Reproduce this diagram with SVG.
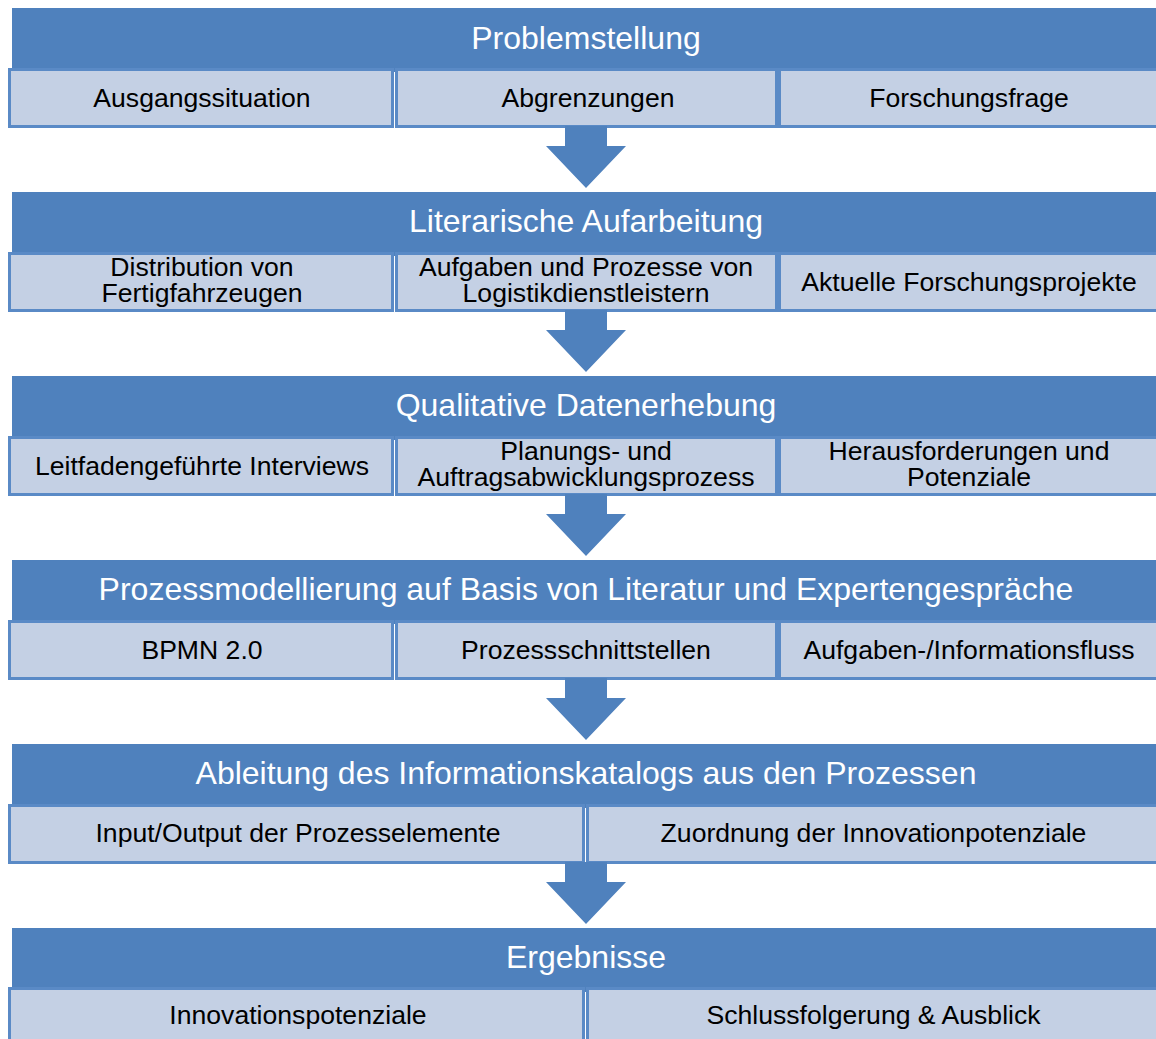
<svg xmlns="http://www.w3.org/2000/svg" width="1156" height="1039" viewBox="0 0 1156 1039">
  <style>
    .band { fill: #4F81BD; }
    .cell { fill: #C4D0E4; stroke: #5A8AC6; stroke-width: 3; }
    .title { font-family: "Liberation Sans", Arial, sans-serif; font-size: 32px; fill: #FFFFFF; text-anchor: middle; }
    .label { font-family: "Liberation Sans", Arial, sans-serif; font-size: 26.6px; fill: #000000; text-anchor: middle; }
    .arrow { fill: #4F81BD; }
  </style>
  <defs>
    <!-- block arrow between two stages; origin at the top of the next stage band -->
    <path id="down-arrow" d="M565,-66 H607 V-46 H626 L586,-4 L546,-46 H565 Z"/>
  </defs>
  <rect width="1156" height="1039" fill="#FFFFFF"/>

  <!-- Stage 1 -->
  <g id="stage-problemstellung" transform="translate(0,8)">
    <rect class="band" x="12" y="0" width="1150" height="64"/>
    <text class="title" x="586" y="41">Problemstellung</text>
    <rect class="cell" x="9.5" y="61.5" width="383" height="57"/>
    <rect class="cell" x="396.5" y="61.5" width="380" height="57"/>
    <rect class="cell" x="779.5" y="61.5" width="390" height="57"/>
    <text class="label" x="202" y="99">Ausgangssituation</text>
    <text class="label" x="588" y="99">Abgrenzungen</text>
    <text class="label" x="969" y="99">Forschungsfrage</text>
  </g>

  <!-- Stage 2 -->
  <g id="stage-literatur" transform="translate(0,192)">
    <rect class="band" x="12" y="0" width="1150" height="64"/>
    <text class="title" x="586" y="40">Literarische Aufarbeitung</text>
    <rect class="cell" x="9.5" y="61.5" width="383" height="57"/>
    <rect class="cell" x="396.5" y="61.5" width="380" height="57"/>
    <rect class="cell" x="779.5" y="61.5" width="390" height="57"/>
    <text class="label" x="202"><tspan x="202" y="84">Distribution von</tspan><tspan x="202" y="110">Fertigfahrzeugen</tspan></text>
    <text class="label" x="586"><tspan x="586" y="84">Aufgaben und Prozesse von</tspan><tspan x="586" y="110">Logistikdienstleistern</tspan></text>
    <text class="label" x="969" y="99">Aktuelle Forschungsprojekte</text>
  </g>

  <!-- Stage 3 -->
  <g id="stage-datenerhebung" transform="translate(0,376)">
    <rect class="band" x="12" y="0" width="1150" height="64"/>
    <text class="title" x="586" y="40">Qualitative Datenerhebung</text>
    <rect class="cell" x="9.5" y="61.5" width="383" height="57"/>
    <rect class="cell" x="396.5" y="61.5" width="380" height="57"/>
    <rect class="cell" x="779.5" y="61.5" width="390" height="57"/>
    <text class="label" x="202" y="99">Leitfadengeführte Interviews</text>
    <text class="label" x="586"><tspan x="586" y="84">Planungs- und</tspan><tspan x="586" y="110">Auftragsabwicklungsprozess</tspan></text>
    <text class="label" x="969"><tspan x="969" y="84">Herausforderungen und</tspan><tspan x="969" y="110">Potenziale</tspan></text>
  </g>

  <!-- Stage 4 -->
  <g id="stage-prozessmodellierung" transform="translate(0,560)">
    <rect class="band" x="12" y="0" width="1150" height="64"/>
    <text class="title" x="586" y="40">Prozessmodellierung auf Basis von Literatur und Expertengespräche</text>
    <rect class="cell" x="9.5" y="61.5" width="383" height="57"/>
    <rect class="cell" x="396.5" y="61.5" width="380" height="57"/>
    <rect class="cell" x="779.5" y="61.5" width="390" height="57"/>
    <text class="label" x="202" y="99">BPMN 2.0</text>
    <text class="label" x="586" y="99">Prozessschnittstellen</text>
    <text class="label" x="969" y="99">Aufgaben-/Informationsfluss</text>
  </g>

  <!-- Stage 5 -->
  <g id="stage-informationskatalog" transform="translate(0,744)">
    <rect class="band" x="12" y="0" width="1150" height="64"/>
    <text class="title" x="586" y="40">Ableitung des Informationskatalogs aus den Prozessen</text>
    <rect class="cell" x="9.5" y="61.5" width="574" height="57"/>
    <rect class="cell" x="587.5" y="61.5" width="582" height="57"/>
    <text class="label" x="298" y="98">Input/Output der Prozesselemente</text>
    <text class="label" x="873.5" y="98">Zuordnung der Innovationpotenziale</text>
  </g>

  <!-- Stage 6 -->
  <g id="stage-ergebnisse" transform="translate(0,928)">
    <rect class="band" x="12" y="0" width="1150" height="64"/>
    <text class="title" x="586" y="40">Ergebnisse</text>
    <rect class="cell" x="9.5" y="60.5" width="574" height="57"/>
    <rect class="cell" x="587.5" y="60.5" width="582" height="57"/>
    <text class="label" x="298" y="96">Innovationspotenziale</text>
    <text class="label" x="873.5" y="96">Schlussfolgerung &amp; Ausblick</text>
  </g>

  <!-- Connectors between stages -->
  <g id="connectors" class="arrow">
    <use href="#down-arrow" y="192"/>
    <use href="#down-arrow" y="376"/>
    <use href="#down-arrow" y="560"/>
    <use href="#down-arrow" y="744"/>
    <use href="#down-arrow" y="928"/>
  </g>
</svg>
